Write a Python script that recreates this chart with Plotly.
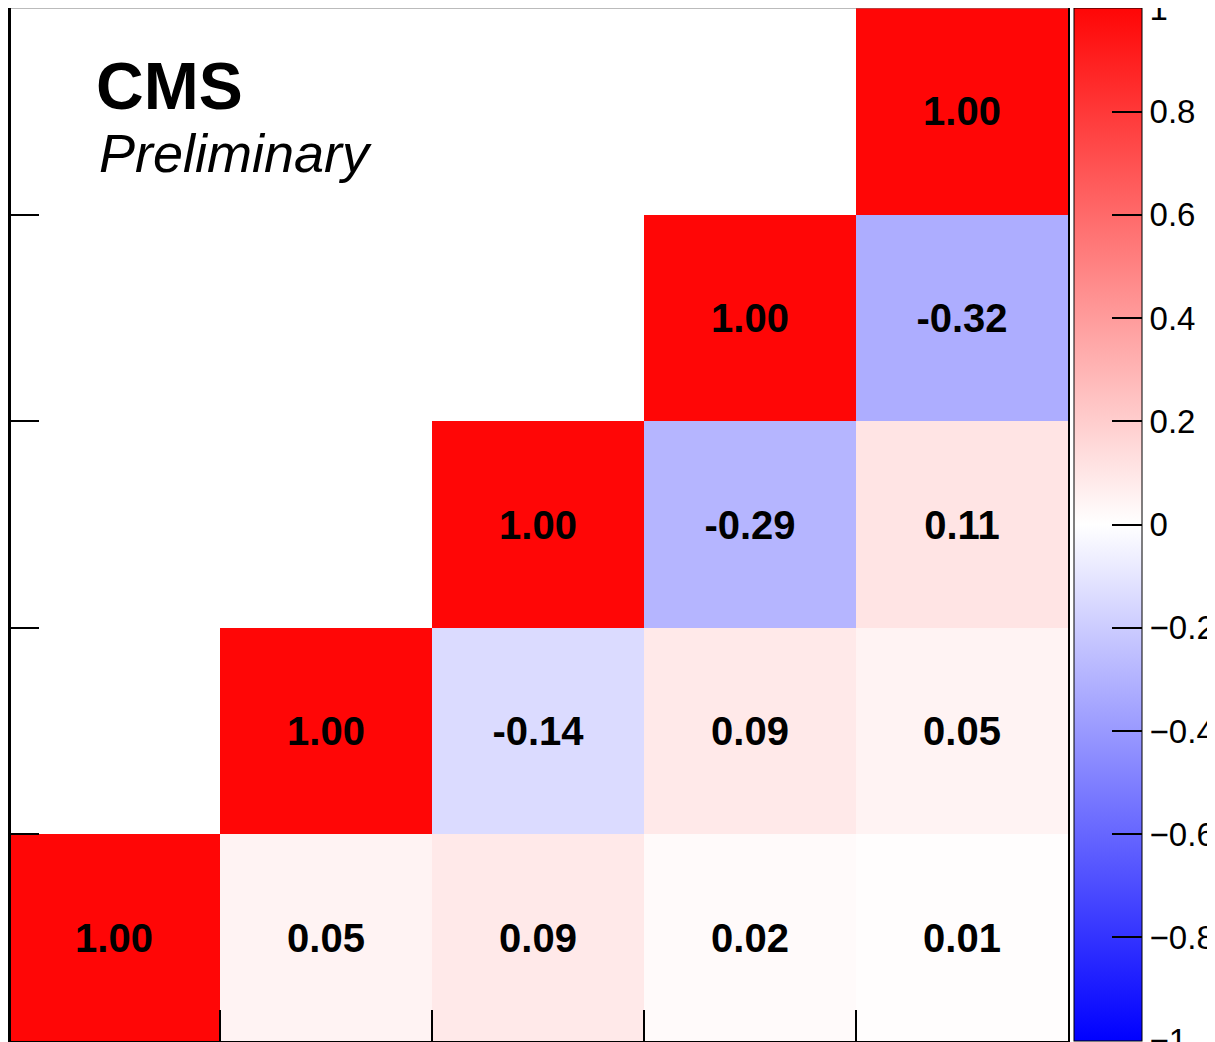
import plotly.graph_objects as go
import math

# Data: correlation matrix, rows listed from bottom (y=0) to top (y=4); None = empty
x_idx = [0, 1, 2, 3, 4]
y_idx = [0, 1, 2, 3, 4]
row0 = [1.00, 0.05, 0.09, 0.02, 0.01]
row1 = [None, 1.00, -0.14, 0.09, 0.05]
row2 = [None, None, 1.00, -0.29, 0.11]
row3 = [None, None, None, 1.00, -0.32]
row4 = [None, None, None, None, 1.00]
z = [row0, row1, row2, row3, row4]
cbar_ticks = [-1, -0.8, -0.6, -0.4, -0.2, 0, 0.2, 0.4, 0.6, 0.8, 1]
cbar_labels = ["\u22121", "\u22120.8", "\u22120.6", "\u22120.4", "\u22120.2", "0", "0.2", "0.4", "0.6", "0.8", "1"]

text = [["" if v is None else f"{v:.2f}" for v in row] for row in z]
zz = [[math.nan if v is None else v for v in row] for row in z]

# the page body adds an 8px offset; figure placed at (8, 8)
OFF = 8
W, H = 1215, 1034
L, R, T, B = 0, 155, 0, 1
pw = W - L - R
ph = H - T - B

def px_x(page_x):
    return (page_x - OFF - L) / pw

def px_y(page_y):
    return 1 - (page_y - OFF - T) / ph

fig = go.Figure(go.Heatmap(
    x=x_idx, y=y_idx, z=zz, text=text, texttemplate="%{text}",
    textfont=dict(family="Liberation Sans, Arial, sans-serif", size=40, color="black", weight="bold"),
    colorscale=[[0, "rgb(0,0,255)"], [0.5, "rgb(255,255,255)"], [1, "rgb(255,6,6)"]],
    zmin=-1.0005, zmax=1.0005, xgap=0, ygap=0, hoverinfo="skip",
    colorbar=dict(
        x=px_x(1074), xanchor="left", xref="paper", y=0.5, yanchor="middle",
        len=1, lenmode="fraction", thickness=68, thicknessmode="pixels",
        xpad=0, ypad=0, outlinecolor="black", outlinewidth=1,
        tickmode="array", tickvals=cbar_ticks, ticktext=cbar_labels,
        ticks="inside", ticklen=30, tickwidth=2, tickcolor="black",
        ticklabeloverflow="allow",
        tickfont=dict(family="Liberation Sans, Arial, sans-serif", size=33, color="black"),
    ),
))

axis_common = dict(
    range=[-0.5, 4.5], showticklabels=False, showgrid=False, zeroline=False,
    tickmode="array", tickvals=[-0.5, 0.5, 1.5, 2.5, 3.5, 4.5],
    ticks="inside", ticklen=31, tickwidth=2, tickcolor="black",
    showline=True, linecolor="black", linewidth=2,
)
fig.update_xaxes(**axis_common, mirror=False)
fig.update_yaxes(**axis_common, mirror=True)

# frame lines: thin gray top, heavier black left
fig.add_shape(type="line", xref="paper", yref="paper", x0=0, x1=1, y0=1, y1=1,
              line=dict(color="rgb(120,120,120)", width=1))
fig.add_shape(type="line", xref="paper", yref="paper", x0=1.5 / pw, x1=1.5 / pw, y0=0, y1=1,
              line=dict(color="black", width=3))

fig.add_annotation(text="<b>CMS</b>", xref="paper", yref="paper",
                   x=px_x(94), y=px_y(86), xanchor="left", yanchor="middle",
                   showarrow=False,
                   font=dict(family="Liberation Sans, Arial, sans-serif", size=66, color="black"))
fig.add_annotation(text="<i>Preliminary</i>", xref="paper", yref="paper",
                   x=px_x(97), y=px_y(153), xanchor="left", yanchor="middle",
                   showarrow=False,
                   font=dict(family="Liberation Sans, Arial, sans-serif", size=54, color="black"))

fig.update_layout(
    width=W, height=H, margin=dict(l=L, r=R, t=T, b=B, pad=0, autoexpand=False),
    paper_bgcolor="white", plot_bgcolor="white", showlegend=False,
)

fig.write_html("out.html")
